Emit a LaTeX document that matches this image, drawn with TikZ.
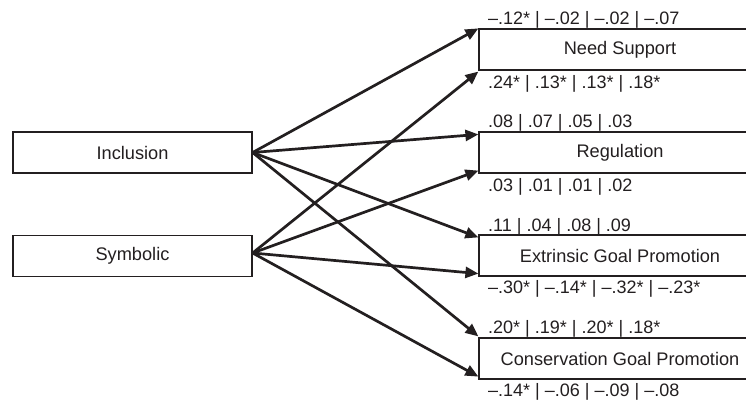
\documentclass[tikz,border=0pt]{standalone}
\usepackage{fontspec}
\setmainfont{Liberation Sans}
\usetikzlibrary{arrows.meta}
\definecolor{ink}{HTML}{231F20}
\begin{document}
\begin{tikzpicture}[x=1pt,y=-1pt,
  box/.style={draw=ink, line width=1.2pt, minimum height=41pt, inner sep=0pt,
    font=\fontsize{18.2}{21}\selectfont, text=ink},
  lbl/.style={anchor=base west, inner sep=0pt, font=\fontsize{18}{21}\selectfont, text=ink},
  arr/.style={draw=ink, line width=2.7pt, -{Triangle[length=13pt,width=11pt]}}]
\clip (0,0) rectangle (746,402);
\fill[white] (0,0) rectangle (746,402);
% left boxes
\node[box, minimum width=239pt] (incl) at (132.5,152.5) {Inclusion};
\node[box, minimum width=239pt] (symb) at (132.5,256) {Symbolic};
% right boxes
\node[box, minimum width=282pt] (need) at (620,49.5) {Need Support};
\node[box, minimum width=282pt] (reg) at (620,152.5) {Regulation};
\node[box, minimum width=282pt] (ext) at (620,255.5) {Extrinsic Goal Promotion};
\node[box, minimum width=282pt] (cons) at (620,358.5) {Conservation Goal Promotion};
% arrows
\draw[arr] (incl.east) -- (need.north west);
\draw[arr] (incl.east) -- ([yshift=-3pt]reg.north west);
\draw[arr] (incl.east) -- ([yshift=-3pt]ext.north west);
\draw[arr] (incl.east) -- ([yshift=1pt]cons.north west);
\draw[arr] ([yshift=3pt]symb.east) -- ([yshift=-1pt]need.south west);
\draw[arr] ([yshift=3pt]symb.east) -- ([yshift=3pt]reg.south west);
\draw[arr] ([yshift=3pt]symb.east) -- ([yshift=3pt]ext.south west);
\draw[arr] ([yshift=3pt]symb.east) -- ([yshift=3pt]cons.south west);
% labels
\node[lbl] (n1) at (488,24) {\textendash.12* | \textendash.02 | \textendash.02 | \textendash.07};
\node[lbl] (n2) at (488,88) {.24* | .13* | .13* | .18*};
\node[lbl] (r1) at (488,127) {.08 | .07 | .05 | .03};
\node[lbl] (r2) at (488,191) {.03 | .01 | .01 | .02};
\node[lbl] (e1) at (488,231) {.11 | .04 | .08 | .09};
\node[lbl] (e2) at (488,293) {\textendash.30* | \textendash.14* | \textendash.32* | \textendash.23*};
\node[lbl] (c1) at (488,333) {.20* | .19* | .20* | .18*};
\node[lbl] (c2) at (488,396) {\textendash.14* | \textendash.06 | \textendash.09 | \textendash.08};
\end{tikzpicture}
\end{document}
